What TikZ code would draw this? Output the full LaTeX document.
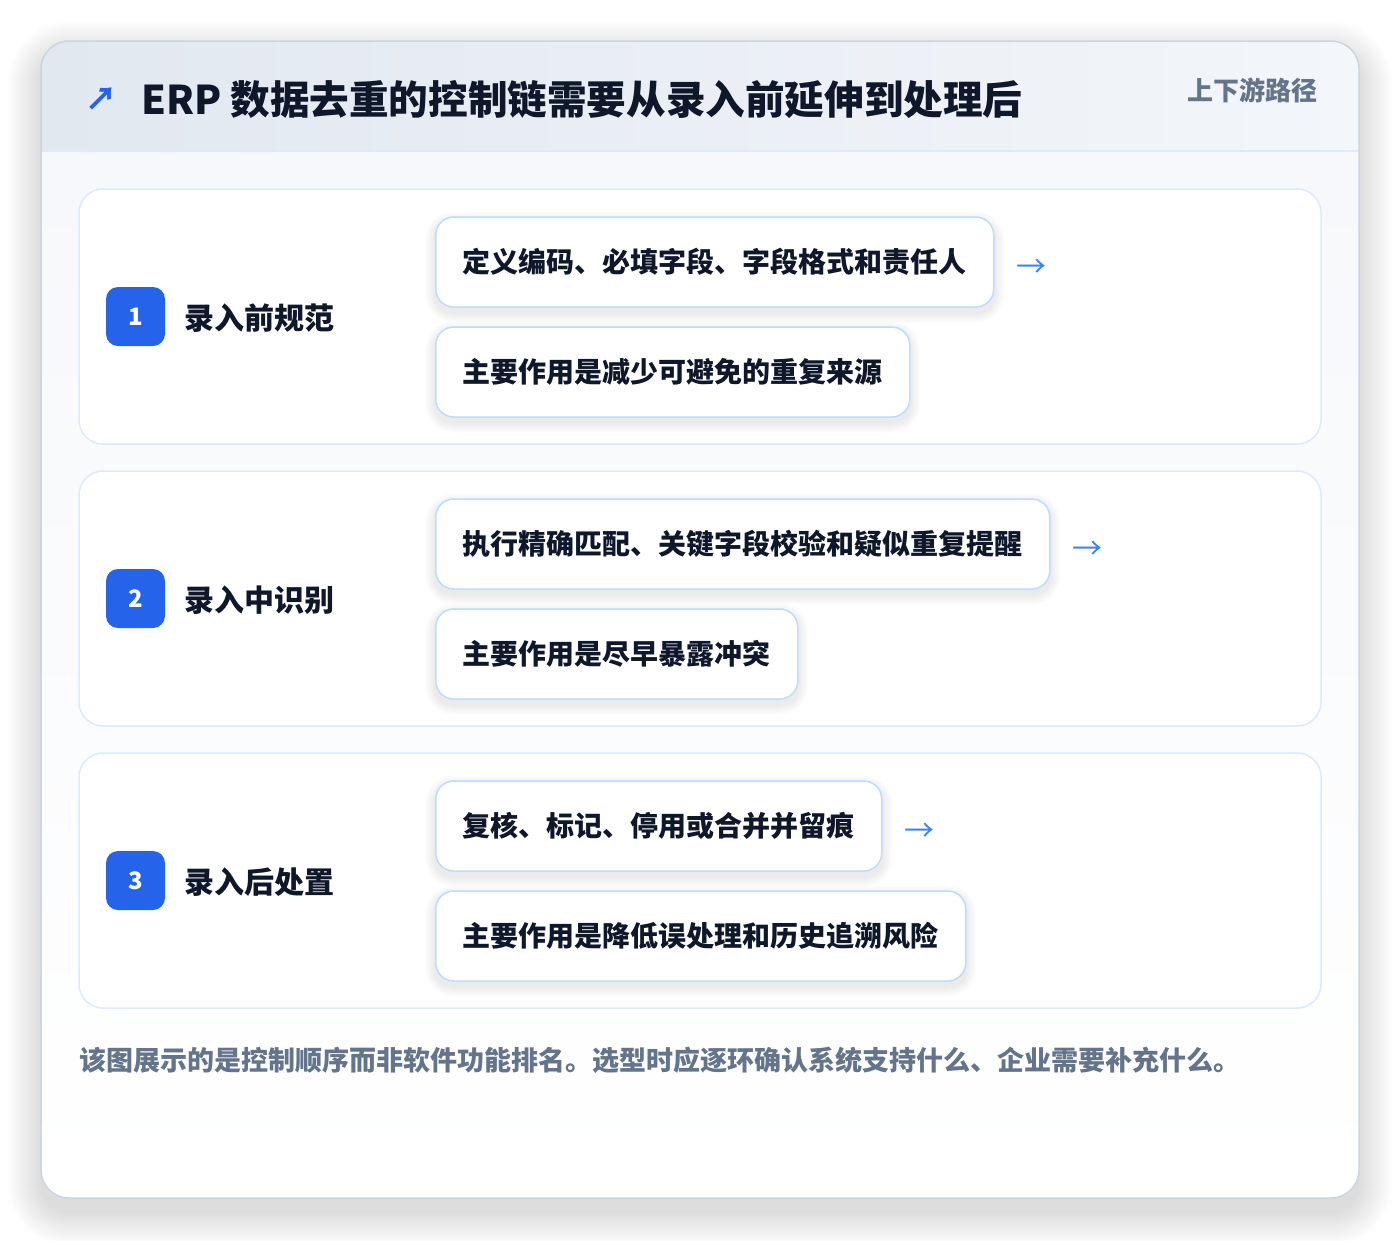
\documentclass[tikz,border=0pt]{standalone}
\usepackage{fontspec}
\setmainfont{Noto Sans CJK SC}
\usetikzlibrary{calc}
\pgfdeclarelayer{cardlayer}
\pgfdeclarelayer{shadowlayer}
\pgfsetlayers{cardlayer,shadowlayer,main}
\definecolor{cardborder}{HTML}{CBD5E1}
\definecolor{hdrL}{HTML}{E2E8F0}
\definecolor{hdrR}{HTML}{F3F6FA}
\definecolor{hdrline}{HTML}{DBEAFE}
\definecolor{bodyT}{HTML}{F6F8FB}
\definecolor{rowborder}{HTML}{DBEAFE}
\definecolor{boxborder}{HTML}{BFDBFE}
\definecolor{badgeblue}{HTML}{2563EB}
\definecolor{darktext}{HTML}{0F172A}
\definecolor{graytext}{HTML}{64748B}
\definecolor{arrowblue}{HTML}{3B82F6}
\definecolor{shadowcol}{HTML}{334155}
\tikzset{
  rowcard/.style={draw=rowborder, line width=1.5pt, fill=white, rounded corners=24pt,
    minimum width=1242pt, minimum height=255pt, inner sep=0pt},
  badge/.style={fill=badgeblue, rounded corners=12pt, minimum width=59pt, minimum height=59pt,
    inner sep=0pt, text=white, font=\fontsize{24}{28}\selectfont\bfseries},
  steplabel/.style={anchor=west, inner sep=0pt, text=darktext, font=\fontsize{30}{36}\selectfont\bfseries},
  itembox/.style={draw=boxborder, line width=1.5pt, fill=white, rounded corners=18pt, anchor=west,
    minimum height=90pt, inner xsep=27pt, inner ysep=0pt, text=darktext,
    font=\fontsize{28}{34}\selectfont\bfseries},
  flowarrow/.style={anchor=west, inner sep=0pt, text=arrowblue, font=\fontsize{30}{34}\selectfont},
}
\begin{document}
\begin{tikzpicture}[x=1pt,y=-1pt]
\useasboundingbox (0,0) rectangle (1400,1240);
\begin{pgfonlayer}{cardlayer}
\fill[white] (0,0) rectangle (1400,1240);
% soft shadow of the outer card
\foreach \k [evaluate=\k as \rr using 28+\k] in {1,...,34} {
  \fill[shadowcol, opacity=0.0042, rounded corners=\rr pt] (41-\k,41-\k+14) rectangle (1359+\k,1198+\k+14);
}
\fill[white, rounded corners=28pt] (41,41) rectangle (1359,1198);
\begin{scope}
  \clip[rounded corners=28pt] (41,41) rectangle (1359,1198);
  \shade[left color=hdrL, right color=hdrR] (41,41) rectangle (1359,151);
  \shade[top color=bodyT, bottom color=white] (41,151) rectangle (1359,1198);
\end{scope}
\draw[hdrline, line width=1.5pt] (41,151) -- (1359,151);
\draw[cardborder, line width=1.5pt, rounded corners=28pt] (41,41) rectangle (1359,1198);
\node[rowcard] (row1) at (700,316.5) {};
\node[rowcard] (row2) at (700,598.5) {};
\node[rowcard] (row3) at (700,880.5) {};
\end{pgfonlayer}
% header
\node[inner sep=0pt, text=badgeblue, font=\fontsize{32}{36}\selectfont\bfseries] (icon) at (101,99) {↗};
\node[anchor=west, inner sep=0pt, text=darktext, font=\fontsize{39.6}{46}\selectfont\bfseries] (title) at (141,99)
  {ERP 数据去重的控制链需要从录入前延伸到处理后};
\node[anchor=east, inner sep=0pt, text=graytext, font=\fontsize{26}{30}\selectfont\bfseries] (tag) at (1318,90) {上下游路径};
% row 1
\node[badge] (b1) at (135.5,316.5) {1};
\node[steplabel] (l1) at (184,318) {录入前规范};
\node[itembox] (a1) at (435,262) {定义编码、必填字段、字段格式和责任人};
\node[itembox] (c1) at (435,372) {主要作用是减少可避免的重复来源};
\node[flowarrow] (ar1) at ([xshift=22pt,yshift=-6pt]a1.east) {→};
% row 2
\node[badge] (b2) at (135.5,598.5) {2};
\node[steplabel] (l2) at (184,600) {录入中识别};
\node[itembox] (a2) at (435,544) {执行精确匹配、关键字段校验和疑似重复提醒};
\node[itembox] (c2) at (435,654) {主要作用是尽早暴露冲突};
\node[flowarrow] (ar2) at ([xshift=22pt,yshift=-6pt]a2.east) {→};
% row 3
\node[badge] (b3) at (135.5,880.5) {3};
\node[steplabel] (l3) at (184,882) {录入后处置};
\node[itembox] (a3) at (435,826) {复核、标记、停用或合并并留痕};
\node[itembox] (c3) at (435,936) {主要作用是降低误处理和历史追溯风险};
\node[flowarrow] (ar3) at ([xshift=22pt,yshift=-6pt]a3.east) {→};
% soft shadows of the item boxes
\begin{pgfonlayer}{shadowlayer}
\foreach \n in {a1,c1,a2,c2,a3,c3} {
  \foreach \k [evaluate=\k as \rr using 18+\k, evaluate=\k as \up using \k-5, evaluate=\k as \dn using -\k-5] in {1,...,10} {
    \fill[shadowcol, opacity=0.006, rounded corners=\rr pt]
      ([xshift=-\k pt, yshift=\up pt]\n.north west) rectangle ([xshift=\k pt, yshift=\dn pt]\n.south east);
  }
}
\end{pgfonlayer}
% caption
\node[anchor=west, inner sep=0pt, text=graytext, font=\fontsize{27}{32}\selectfont\bfseries] (cap) at (79,1060)
  {该图展示的是控制顺序而非软件功能排名。选型时应逐环确认系统支持什么、企业需要补充什么。};
\end{tikzpicture}
\end{document}
